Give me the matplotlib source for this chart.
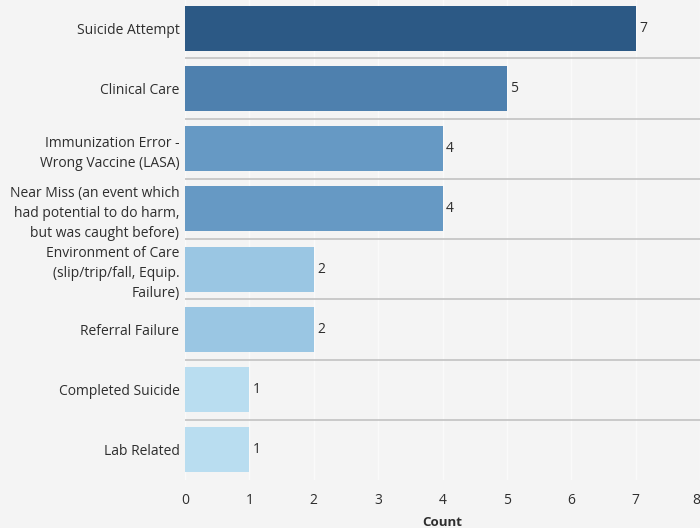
import matplotlib.pyplot as plt
import numpy as np

categories = [
    "Suicide Attempt",
    "Clinical Care",
    "Immunization Error -\nWrong Vaccine (LASA)",
    "Near Miss (an event which\nhad potential to do harm,\nbut was caught before)",
    "Environment of Care\n(slip/trip/fall, Equip.\nFailure)",
    "Referral Failure",
    "Completed Suicide",
    "Lab Related",
]
counts = [7, 5, 4, 4, 2, 2, 1, 1]
bar_colors = ["#2c5985", "#4e80ae", "#6699c4", "#6699c4",
              "#9ac6e3", "#9ac6e3", "#b9ddf0", "#b9ddf0"]
x_ticks = [0, 1, 2, 3, 4, 5, 6, 7, 8]

bg = "#f4f4f4"
txt = "#2e2e2e"
plt.rcParams['font.family'] = ['Open Sans', 'DejaVu Sans']

fig = plt.figure(figsize=(7, 5.28), dpi=100, facecolor=bg)
ax = fig.add_axes([185 / 700, 48 / 528, 515 / 700, 482 / 528], facecolor=bg)

y = np.arange(len(categories))
ax.barh(y, counts, height=0.75, color=bar_colors, zorder=3)

for yi, v in zip(y, counts):
    ax.annotate(str(v), (v, yi), xytext=(2.5, 0), textcoords="offset points",
                va="center", ha="left", fontsize=10, color=txt)

# row separators
for yi in y[:-1]:
    ax.axhline(yi + 0.5, color="#c6c6c6", lw=1.3, zorder=2)

ax.set_xlim(0, 8)
ax.set_ylim(len(categories) - 0.5, -0.5)
ax.set_xticks(x_ticks)
ax.set_yticks(y)
ax.set_yticklabels(categories, fontsize=10, color=txt, linespacing=1.45)
ax.tick_params(axis="x", length=0, pad=9, labelsize=10, labelcolor=txt)
ax.tick_params(axis="y", length=0, pad=4)
ax.get_xticklabels()[-1].set_ha("right")
ax.xaxis.grid(True, color="#fafafa", lw=1.0, zorder=1)
ax.set_axisbelow(True)
for s in ax.spines.values():
    s.set_visible(False)

ax.set_xlabel("Count", fontsize=9.5, fontweight="bold", color=txt, labelpad=6)

fig.savefig("out.png", dpi=100, facecolor=bg)
